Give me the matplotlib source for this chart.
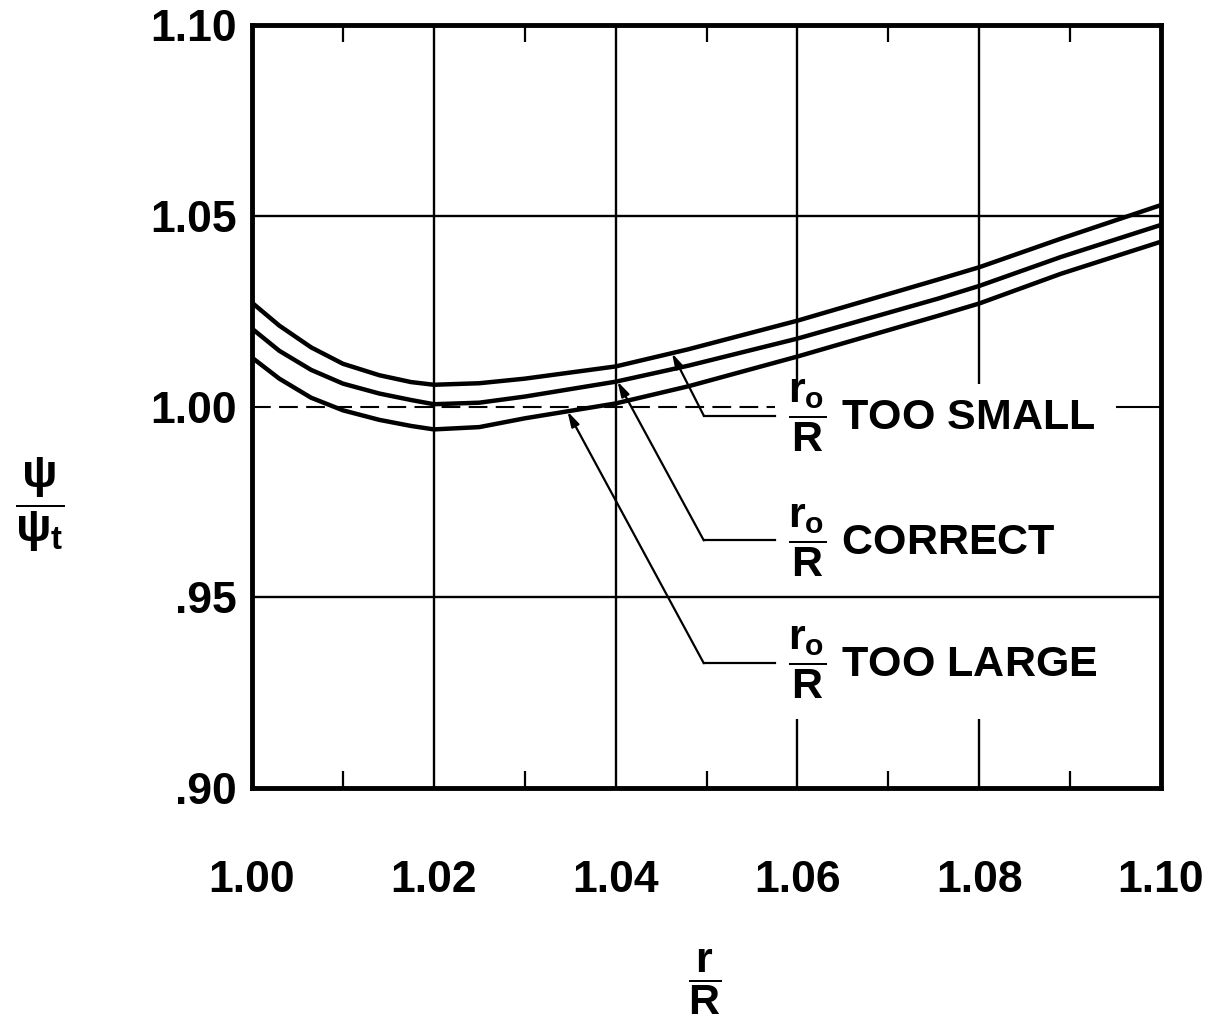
import numpy as np
import matplotlib
matplotlib.use("Agg")
import matplotlib.pyplot as plt
from matplotlib.ticker import FixedLocator

plt.rcParams['font.family'] = ['Liberation Sans', 'DejaVu Sans']
plt.rcParams['font.weight'] = 'bold'
plt.rcParams['mathtext.fontset'] = 'custom'
plt.rcParams['mathtext.rm'] = 'Liberation Sans:bold'
plt.rcParams['mathtext.it'] = 'Liberation Sans:bold'
plt.rcParams['mathtext.bf'] = 'Liberation Sans:bold'
plt.rcParams['mathtext.sf'] = 'Liberation Sans:bold'

# ---- data ----
r_over_R = [1.000, 1.003, 1.0065, 1.010, 1.014, 1.0175, 1.020, 1.025, 1.030,
            1.040, 1.048, 1.060, 1.0755, 1.080, 1.089, 1.100]
psi_too_small = [1.0272, 1.0212, 1.0155, 1.0112, 1.0082, 1.0064, 1.0057, 1.0061, 1.0073,
                 1.0105, 1.0150, 1.0225, 1.0333, 1.0365, 1.0440, 1.0528]
psi_correct = [1.0204, 1.0146, 1.0096, 1.0060, 1.0034, 1.0017, 1.0006, 1.0010, 1.0026,
               1.0065, 1.0107, 1.0178, 1.0283, 1.0316, 1.0392, 1.0476]
psi_too_large = [1.0128, 1.0073, 1.0023, 0.9990, 0.9965, 0.9949, 0.9940, 0.9946, 0.9969,
                 1.0008, 1.0053, 1.0131, 1.0238, 1.0270, 1.0348, 1.0432]

x_ticks = [1.00, 1.02, 1.04, 1.06, 1.08, 1.10]
x_tick_labels = ['1.00', '1.02', '1.04', '1.06', '1.08', '1.10']
x_minor_ticks = [1.01, 1.03, 1.05, 1.07, 1.09]
y_ticks = [0.90, 0.95, 1.00, 1.05, 1.10]
y_tick_labels = ['.90', '.95', '1.00', '1.05', '1.10']

series_labels = [r'$\dfrac{r_o}{R}$ TOO SMALL',
                 r'$\dfrac{r_o}{R}$ CORRECT',
                 r'$\dfrac{r_o}{R}$ TOO LARGE']

# ---- figure ----
fig = plt.figure(figsize=(12.10, 10.29), dpi=100)
ax = fig.add_axes([0.2083, 0.2342, 0.9595 - 0.2083, 0.9757 - 0.2342])
ax.set_xlim(1.00, 1.10)
ax.set_ylim(0.90, 1.10)

# grid (drawn as segments, broken around the labels like the original)
glw = 1.7
for gx in [1.02, 1.04]:
    ax.vlines(gx, 0.90, 1.10, color='k', lw=glw, zorder=1)
for gx in [1.06, 1.08]:
    ax.vlines(gx, 0.90, 0.918, color='k', lw=glw, zorder=1)
    ax.vlines(gx, 1.006, 1.10, color='k', lw=glw, zorder=1)
for gy in [0.95, 1.05]:
    ax.hlines(gy, 1.00, 1.10, color='k', lw=glw, zorder=1)
ax.hlines(1.00, 1.00, 1.0575, color='k', lw=1.5, linestyles=(0, (9, 4)), zorder=1)
ax.hlines(1.00, 1.095, 1.10, color='k', lw=1.5, zorder=1)

# curves
for ys in (psi_too_small, psi_correct, psi_too_large):
    ax.plot(r_over_R, ys, color='k', lw=3.2, solid_capstyle='butt',
            solid_joinstyle='round', zorder=3)

# leaders, arrows and labels
leader_y = [0.9976, 0.9649, 0.9327]
tip_x = [1.0462, 1.0402, 1.0347]
corner_x = 1.0497
end_x = 1.0575
for ys, ly, tx, lab in zip((psi_too_small, psi_correct, psi_too_large),
                           leader_y, tip_x, series_labels):
    ty = np.interp(tx, r_over_R, ys)
    ax.plot([corner_x, end_x], [ly, ly], color='k', lw=1.6, zorder=2)
    ax.annotate('', xy=(tx, ty), xytext=(corner_x, ly),
                arrowprops=dict(arrowstyle='-|>,head_length=0.9,head_width=0.25',
                                lw=1.6, color='k', shrinkA=0, shrinkB=0),
                zorder=4)
    ax.text(1.0590, ly, lab, fontsize=31, fontweight='bold', ha='left',
            va='center', zorder=5)

# axes styling
for s in ax.spines.values():
    s.set_linewidth(3.5)
ax.xaxis.set_major_locator(FixedLocator(x_ticks))
ax.set_xticklabels(x_tick_labels)
ax.xaxis.set_minor_locator(FixedLocator(x_minor_ticks))
ax.yaxis.set_major_locator(FixedLocator(y_ticks))
ax.set_yticklabels(y_tick_labels)
ax.tick_params(axis='x', which='major', length=0, pad=52, labelsize=32)
ax.tick_params(axis='y', which='major', length=0, pad=11, labelsize=32)
ax.tick_params(axis='x', which='minor', direction='in', length=12, width=1.6,
               top=True, bottom=True)
for lbl in ax.get_xticklabels() + ax.get_yticklabels():
    lbl.set_fontweight('bold')

# axis titles as fractions
fig.text(705 / 1210, 1 - 982 / 1029, r'$\dfrac{r}{R}$', fontsize=31,
         ha='center', va='center')
fig.text(40 / 1210, 1 - 505 / 1029, r'$\dfrac{\psi}{\psi_t}$', fontsize=34,
         ha='center', va='center')

fig.savefig('out.png', dpi=100, facecolor='white')
